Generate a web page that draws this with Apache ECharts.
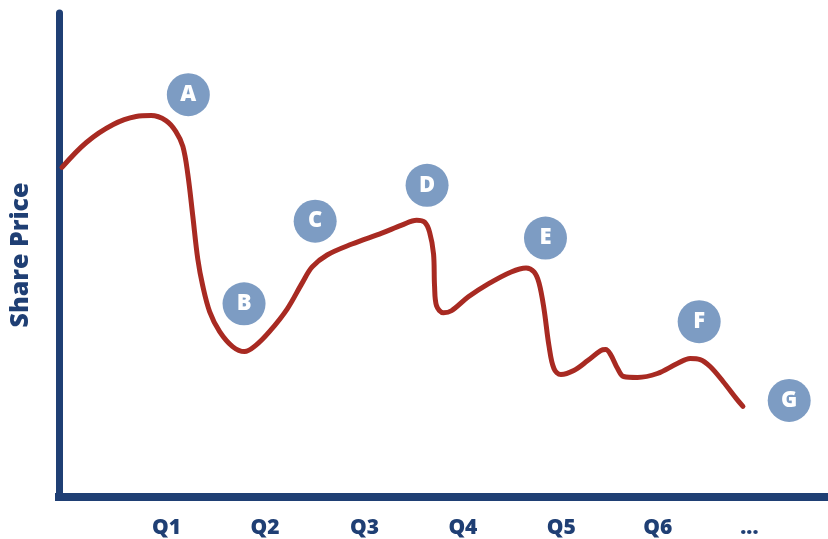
<!DOCTYPE html>
<html>
<head>
<meta charset="utf-8">
<script src="https://cdn.jsdelivr.net/npm/echarts@6/dist/echarts.min.js"></script>
<style>html,body{margin:0;padding:0;background:#fff;}#c{width:828px;height:539px;}</style>
</head>
<body>
<div id="c"></div>
<script>
// time axis positions (arbitrary units) and share price (arbitrary units)
const priceX = [3,27.5,54.5,77.5,92.5,107.5,117.5,124.5,129.5,134.5,139.5,144.5,151.5,161.5,174.5,186.5,197.5,211.5,229.5,244.5,254.5,269.5,294.5,324.5,344.5,359.5,367.5,372.5,376.5,377.5,379.5,386.5,394.5,411.5,431.5,454.5,469.5,477.5,482.5,487.5,492.5,497.5,504.5,517.5,531.5,544.5,549.5,554.5,561.5,567.5,581.5,601.5,621.5,634.5,644.5,654.5,667.5,681.5,687.5];
const priceY = [331,356,374,382,383,378,367,352,324,282,239,212,186,166,151,146,152,166,189,215,231,243,254,265,273,278,276,266,244,212,192,185,187,201,214,226,230,226,215,189,152,129,123,127,137,147,148,143,129,121,120,124,134,139,138,131,116,98,91];

const markerLabels = ['A','B','C','D','E','F','G'];
const markerX = [130, 186, 257.5, 370, 489, 643.5, 734];
const markerY = [404, 194, 277, 313, 260, 176, 97];

const tickLabels = ['Q1','Q2','Q3','Q4','Q5','Q6','...'];
const tickPos = [108, 207, 307, 406, 505, 602, 694];

const navy = '#1f3f74';
const red = '#a82a22';
const blue = '#7d9cc3';

const chart = echarts.init(document.getElementById('c'), null, {renderer: 'canvas'});
chart.setOption({
  animation: false,
  grid: {left: 55, right: 0, top: 13, bottom: 40, containLabel: false},
  xAxis: {
    type: 'value', min: 0, max: 773,
    splitLine: {show: false},
    axisTick: {show: false},
    axisLine: {show: true, onZero: false, lineStyle: {color: navy, width: 8, cap: 'square'}},
    axisLabel: {
      show: true,
      customValues: tickPos,
      margin: 21,
      formatter: function (v) { const i = tickPos.indexOf(v); return i >= 0 ? tickLabels[i] : ''; },
      color: navy, fontSize: 21, fontWeight: 800, fontFamily: 'Open Sans'
    }
  },
  yAxis: {
    type: 'value', min: 0, max: 486,
    splitLine: {show: false},
    axisTick: {show: false},
    axisLabel: {show: false},
    axisLine: {show: true, lineStyle: {color: navy, width: 7}},
    name: 'Share Price',
    nameLocation: 'middle',
    nameGap: 26,
    nameRotate: 90,
    nameTextStyle: {color: navy, fontSize: 25, fontWeight: 800, fontFamily: 'Open Sans'}
  },
  series: [
    {
      type: 'line',
      data: priceX.map((x, i) => [x, priceY[i]]),
      smooth: 0.35,
      showSymbol: false,
      symbol: 'none',
      lineStyle: {color: red, width: 5, cap: 'round', join: 'round'},
      z: 2
    },
    {
      type: 'scatter',
      data: markerX.map((x, i) => [x, markerY[i], markerLabels[i]]),
      symbol: 'circle',
      symbolSize: 43,
      itemStyle: {color: blue, opacity: 1},
      label: {
        show: true, position: 'inside',
        formatter: p => p.data[2],
        color: '#ffffff', fontSize: 22, fontWeight: 800, fontFamily: 'Open Sans'
      },
      z: 3
    }
  ]
});
</script>
</body>
</html>
